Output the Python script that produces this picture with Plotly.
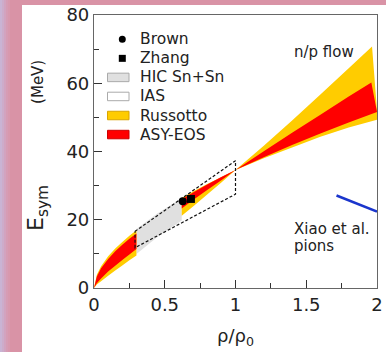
import plotly.graph_objects as go

# ---------------- data ----------------
rho_low = [0, 0.02, 0.05, 0.1, 0.15, 0.2, 0.25, 0.3]
russ_up_low = [0, 3.9, 6.4, 9.3, 11.6, 13.5, 15.3, 16.9]
russ_dn_low = [0, 1.0, 2.0, 3.6, 5.1, 6.6, 8.1, 9.5]
asy_up_low = [0, 3.4, 5.8, 8.5, 10.8, 12.7, 14.4, 16.0]
asy_dn_low = [0, 1.4, 2.8, 4.8, 6.5, 8.2, 9.8, 11.4]

rho_up_high = [0.62, 0.7, 0.8, 0.9, 1.0, 1.2, 1.4, 1.6, 1.8, 1.965, 2.0]
russ_up_high = [26.4, 28.3, 30.5, 32.5, 34.6, 41.7, 49.1, 56.7, 64.4, 70.8, 52.0]
rho_dn_high = [0.62, 0.7, 0.8, 0.9, 1.0, 1.2, 1.4, 1.6, 1.8, 2.0]
russ_dn_high = [21.2, 23.9, 27.4, 30.9, 34.6, 38.0, 41.2, 44.3, 47.0, 49.3]

rho_asy_up_high = [0.62, 0.7, 0.8, 0.9, 1.0, 1.2, 1.4, 1.6, 1.8, 1.96]
asy_up_high = [26.0, 28.0, 30.3, 32.5, 34.6, 40.1, 45.5, 50.8, 56.1, 60.2]
asy_dn_high = [23.3, 25.8, 28.7, 31.6, 34.6, 38.3, 41.9, 45.3, 48.5, 51.6]

hic_rho = [0.3, 0.45, 0.62]
hic_up = [17.3, 21.9, 26.3]
hic_dn = [10.0, 15.0, 19.8]

ias_rho = [0.29, 1.0, 1.0, 0.29, 0.29]
ias_e = [16.6, 37.3, 27.5, 11.8, 16.6]

brown_rho, brown_e = [0.627], [25.4]
zhang_rho, zhang_e = [0.685], [26.1]

xiao_rho = [1.714, 2.0]
xiao_e = [27.1, 22.4]

legend_labels = ["Brown", "Zhang", "HIC Sn+Sn", "IAS", "Russotto", "ASY-EOS"]

YELLOW = "#FFCC00"
RED = "#FF0000"
GRAY = "#E0E0E0"
FONT = "DejaVu Sans"
TXT = "#222"

# plot-area geometry in pixels (used only for layout placement)
L, R, T, B = 94, 377, 15, 288
W, H = R - L, B - T


def px(x):
    return (x - L) / W


def py(y):
    return (B - y) / H


def band(xu, yu, xd, yd):
    return list(xu) + list(reversed(xd)), list(yu) + list(reversed(yd))


fig = go.Figure()

# HIC Sn+Sn band
bx, by = band(hic_rho, hic_up, hic_rho, hic_dn)
fig.add_trace(go.Scatter(x=bx, y=by, fill="toself", fillcolor=GRAY, mode="none",
                         name="HIC Sn+Sn", hoverinfo="skip"))

# Russotto (yellow)
for xu, yu, xd, yd in [(rho_low, russ_up_low, rho_low, russ_dn_low),
                       (rho_up_high, russ_up_high, rho_dn_high, russ_dn_high)]:
    bx, by = band(xu, yu, xd, yd)
    fig.add_trace(go.Scatter(x=bx, y=by, fill="toself", fillcolor=YELLOW, mode="none",
                             name="Russotto", hoverinfo="skip"))

# ASY-EOS (red)
for xu, yu, xd, yd in [(rho_low, asy_up_low, rho_low, asy_dn_low),
                       (rho_asy_up_high, asy_up_high, rho_dn_high, asy_dn_high)]:
    bx, by = band(xu, yu, xd, yd)
    fig.add_trace(go.Scatter(x=bx, y=by, fill="toself", fillcolor=RED, mode="none",
                             name="ASY-EOS", hoverinfo="skip"))

# IAS dashed contour
fig.add_trace(go.Scatter(x=ias_rho, y=ias_e, mode="lines", name="IAS",
                         line=dict(color="#111", width=1.2, dash="3px,2px"),
                         hoverinfo="skip"))

# Brown / Zhang markers
fig.add_trace(go.Scatter(x=brown_rho, y=brown_e, mode="markers", name="Brown",
                         marker=dict(symbol="circle", size=8, color="black")))
fig.add_trace(go.Scatter(x=zhang_rho, y=zhang_e, mode="markers", name="Zhang",
                         marker=dict(symbol="square", size=8, color="black")))

# Xiao et al. pions
fig.add_trace(go.Scatter(x=xiao_rho, y=xiao_e, mode="lines", name="Xiao et al.",
                         line=dict(color="#1a35cc", width=2.5), hoverinfo="skip"))

ann_font = dict(family=FONT, size=15, color=TXT)
fig.add_annotation(x=1.4, y=69.2, text="n/p flow", showarrow=False, xanchor="left",
                   font=ann_font)
fig.add_annotation(x=1.4, y=17.4, text="Xiao et al.", showarrow=False, xanchor="left",
                   font=ann_font)
fig.add_annotation(x=1.4, y=12.2, text="pions", showarrow=False, xanchor="left",
                   font=ann_font)

# y-axis title (rotated), placed like in the reference
ytitle = ('<span style="font-size:22px">E<sub>sym</sub></span>'
          + "\u00a0" * 17 + "(MeV)")
fig.add_annotation(xref="paper", yref="paper", x=px(37), y=py(146), text=ytitle,
                   textangle=-90, showarrow=False, xanchor="center", yanchor="middle",
                   font=dict(family=FONT, size=15, color=TXT))

# background: pink frame strips + white panel
shapes = [dict(type="rect", xref="paper", yref="paper", x0=px(22), x1=px(400),
               y0=py(360), y1=py(5), fillcolor="white", line_width=0, layer="below")]
grad = ["#c9b4d4", "#cdacca", "#d2a3bf", "#d69cb4", "#d898ad"]
for i, c in enumerate(grad):
    shapes.append(dict(type="rect", xref="paper", yref="paper",
                       x0=px(2 * i), x1=px(2 * i + 2), y0=py(360), y1=py(-5),
                       fillcolor=c, line_width=0, layer="below"))

# legend (drawn by hand to match the small boxes of the reference)
row0, dy = 39.3, 19.05
box_x0, box_x1, box_h = 107.5, 129.0, 8.5
mk_x, mk_r = 122.3, 3.5
text_x = 137.7
box_styles = {
    "HIC Sn+Sn": (GRAY, "#aaaaaa"),
    "IAS": ("white", "#aaaaaa"),
    "Russotto": (YELLOW, "#d9a400"),
    "ASY-EOS": (RED, "#cc0000"),
}
for i, lab in enumerate(legend_labels):
    yc = row0 + i * dy
    if lab == "Brown":
        shapes.append(dict(type="circle", xref="paper", yref="paper",
                           x0=px(mk_x - mk_r), x1=px(mk_x + mk_r),
                           y0=py(yc + mk_r), y1=py(yc - mk_r),
                           fillcolor="black", line_width=0))
    elif lab == "Zhang":
        shapes.append(dict(type="rect", xref="paper", yref="paper",
                           x0=px(mk_x - mk_r), x1=px(mk_x + mk_r),
                           y0=py(yc + mk_r), y1=py(yc - mk_r),
                           fillcolor="black", line_width=0))
    else:
        fc, lc = box_styles[lab]
        shapes.append(dict(type="rect", xref="paper", yref="paper",
                           x0=px(box_x0), x1=px(box_x1),
                           y0=py(yc + box_h / 2), y1=py(yc - box_h / 2),
                           fillcolor=fc, line=dict(color=lc, width=1)))
    fig.add_annotation(xref="paper", yref="paper", x=px(text_x), y=py(yc), text=lab,
                       showarrow=False, xanchor="left", yanchor="middle",
                       font=dict(family=FONT, size=15.5, color=TXT))

axis_common = dict(showline=True, mirror=True, linecolor="#666", linewidth=1.2,
                   ticks="inside", tickwidth=1.2, tickcolor="#333", ticklen=8,
                   showgrid=False, zeroline=False, automargin=False,
                   tickfont=dict(family=FONT, size=18, color=TXT))

fig.update_layout(
    width=386, height=352,
    margin=dict(l=L, r=386 - R, t=T, b=352 - B),
    paper_bgcolor="#d993a6", plot_bgcolor="white",
    shapes=shapes,
    showlegend=False,
    xaxis=dict(range=[0, 2], tickvals=[0, 0.5, 1, 1.5, 2], ticktext=["0", "0.5", "1", "1.5", "2"],
               minor=dict(ticks="inside", dtick=0.25, ticklen=5, tickcolor="#333", tickwidth=1.2),
               title=dict(text="ρ/ρ<sub>0</sub>", font=dict(family=FONT, size=18, color=TXT),
                          standoff=15),
               **axis_common),
    yaxis=dict(range=[0, 80], tickvals=[0, 20, 40, 60, 80],
               minor=dict(ticks="inside", dtick=10, ticklen=5, tickcolor="#333", tickwidth=1.2),
               **axis_common),
)

fig.write_html("out.html", config={"displayModeBar": False},
               post_script="document.body.style.margin='0';document.body.style.padding='0';")
